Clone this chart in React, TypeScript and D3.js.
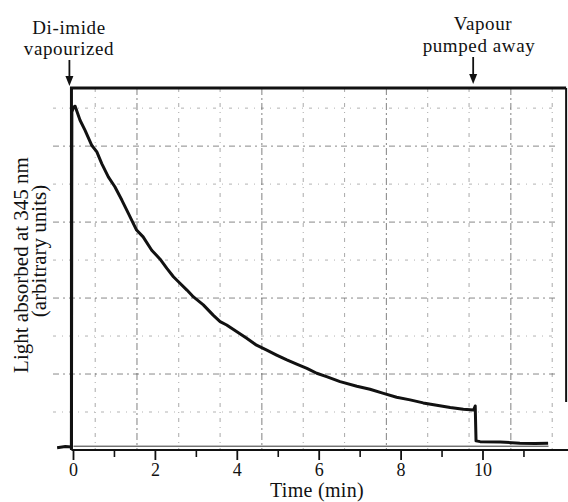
import { useEffect, useRef } from 'react';
import * as d3 from 'd3';

// recorder trace: [time (min), signal (grid divisions)]
const trace: [number, number][] = [
  [-0.4, 0.06], [-0.2, 0.09], [-0.05, 0.08], [-0.04, 8.9], [0.0, 9.03], [0.04, 9.05],
  [0.16, 8.68], [0.28, 8.42], [0.44, 8.03], [0.57, 7.85], [0.69, 7.54], [0.85, 7.19],
  [1.01, 6.93], [1.18, 6.58], [1.34, 6.23], [1.54, 5.79], [1.7, 5.61], [1.91, 5.26],
  [2.11, 5.03], [2.28, 4.78], [2.44, 4.56], [2.6, 4.39], [2.77, 4.21], [2.93, 4.03],
  [3.17, 3.82], [3.41, 3.55], [3.58, 3.38], [3.74, 3.29], [3.99, 3.11], [4.23, 2.94],
  [4.47, 2.76], [4.72, 2.63], [4.96, 2.5], [5.21, 2.37], [5.45, 2.26], [5.7, 2.15],
  [5.94, 2.02], [6.18, 1.93], [6.51, 1.8], [6.92, 1.68], [7.24, 1.6], [7.57, 1.49],
  [7.89, 1.39], [8.22, 1.32], [8.54, 1.24], [8.87, 1.18], [9.2, 1.12], [9.52, 1.07],
  [9.77, 1.05], [9.81, 1.16], [9.83, 0.24], [9.93, 0.22], [10.42, 0.21], [10.9, 0.18],
  [11.27, 0.17], [11.59, 0.18],
];

// faint recorder zero line
const zeroLine: [number, number][] = [[0, 0.1], [11.6, 0.1]];

const majorTicks = [0, 2, 4, 6, 8, 10];
const minorTicks = [1, 3, 5, 7, 9, 11];

// chart paper grid (offset from the time axis)
const gridTimes = [0.53, 1.55, 2.57, 3.58, 4.6, 5.61, 6.62, 7.64, 8.65, 9.66, 10.68, 11.69];
const gridLevels = [1, 2, 3, 4, 5, 6, 7, 8, 9];

const events = [
  { t: -0.1, lines: ['Di-imide', 'vapourized'], textX: [69, 69], textY: [33.5, 55], arrowTop: 60, arrowTip: 86 },
  { t: 9.76, lines: ['Vapour', 'pumped away'], textX: [483, 479], textY: [30, 51.5], arrowTop: 57, arrowTip: 84 },
];

export default function App() {
  const ref = useRef<SVGSVGElement>(null);

  useEffect(() => {
    const width = 568;
    const height = 502;
    const font = '"Liberation Serif", "Times New Roman", serif';

    const svg = d3.select(ref.current);
    svg.selectAll('*').remove();
    svg.attr('width', width).attr('height', height).attr('viewBox', `0 0 ${width} ${height}`);

    svg.append('rect').attr('width', width).attr('height', height).attr('fill', '#fff');

    const x = d3.scaleLinear().domain([0, 10]).range([73.5, 483]);
    const y = d3.scaleLinear().domain([0, 9.53]).range([450, 88]);

    const xLeft = x(-0.05);
    const xRight = x(12.03);

    // grid
    const grid = svg.append('g').attr('stroke', '#555').attr('stroke-width', 1).attr('fill', 'none');
    grid
      .selectAll('line.v')
      .data(gridTimes)
      .join('line')
      .attr('class', 'v')
      .attr('x1', (d) => x(d))
      .attr('x2', (d) => x(d))
      .attr('y1', y(9.53))
      .attr('y2', y(0))
      .attr('stroke-dasharray', (d, i) => (i % 3 === 1 ? '7 3 2 3' : '4 5 1 5'))
      .attr('opacity', (d, i) => (i % 3 === 1 ? 0.75 : 0.5));
    grid
      .selectAll('line.h')
      .data(gridLevels)
      .join('line')
      .attr('class', 'h')
      .attr('x1', 53)
      .attr('x2', 558)
      .attr('y1', (d) => y(d))
      .attr('y2', (d) => y(d))
      .attr('stroke-dasharray', (d) => (d % 2 === 0 ? '6 4 2 4' : '3 6 1 6'))
      .attr('opacity', (d) => (d % 2 === 0 ? 0.7 : 0.45));

    // frame
    const frame = svg.append('g').attr('stroke', '#111').attr('fill', 'none');
    frame
      .append('path')
      .attr('d', `M${xLeft},${y(0)}V${y(9.53)}H${xRight}`)
      .attr('stroke-width', 3);
    frame
      .append('line')
      .attr('x1', xRight)
      .attr('x2', xRight)
      .attr('y1', y(9.53))
      .attr('y2', 402)
      .attr('stroke-width', 2);

    // x axis
    svg
      .append('line')
      .attr('x1', xLeft)
      .attr('x2', width)
      .attr('y1', y(0))
      .attr('y2', y(0))
      .attr('stroke', '#111')
      .attr('stroke-width', 2.2);

    svg
      .append('g')
      .selectAll('line')
      .data(majorTicks)
      .join('line')
      .attr('x1', (d) => x(d))
      .attr('x2', (d) => x(d))
      .attr('y1', y(0))
      .attr('y2', y(0) + 10)
      .attr('stroke', '#111')
      .attr('stroke-width', 1.8);

    svg
      .append('g')
      .selectAll('line')
      .data(minorTicks)
      .join('line')
      .attr('x1', (d) => x(d))
      .attr('x2', (d) => x(d))
      .attr('y1', y(0))
      .attr('y2', y(0) + 7)
      .attr('stroke', '#111')
      .attr('stroke-width', 1.6);

    svg
      .append('g')
      .selectAll('text')
      .data(majorTicks)
      .join('text')
      .attr('x', (d) => x(d))
      .attr('y', 475.5)
      .attr('text-anchor', 'middle')
      .style('font-family', font)
      .style('font-size', '18px')
      .attr('fill', '#111')
      .text((d) => `${d}`);

    svg
      .append('text')
      .attr('x', 317)
      .attr('y', 497)
      .attr('text-anchor', 'middle')
      .style('font-family', font)
      .style('font-size', '20px')
      .style('letter-spacing', '0.3px')
      .attr('fill', '#111')
      .text('Time (min)');

    // y label, two centred lines in one text
    const yLabel = svg
      .append('text')
      .attr('transform', 'rotate(-90)')
      .attr('text-anchor', 'middle')
      .style('font-family', font)
      .style('font-size', '21px')
      .attr('fill', '#111');
    yLabel.append('tspan').attr('x', -265).attr('y', 28).text('Light absorbed at 345 nm');
    yLabel.append('tspan').attr('x', -251).attr('y', 46).text('(arbitrary units)');

    // traces
    const line = d3
      .line<[number, number]>()
      .x((d) => x(d[0]))
      .y((d) => y(d[1]));

    svg
      .append('path')
      .datum(zeroLine)
      .attr('d', line)
      .attr('fill', 'none')
      .attr('stroke', '#333')
      .attr('stroke-width', 1);

    svg
      .append('path')
      .datum(trace)
      .attr('d', line)
      .attr('fill', 'none')
      .attr('stroke', '#111')
      .attr('stroke-width', 3)
      .attr('stroke-linejoin', 'round');

    // event annotations
    events.forEach((ev) => {
      const ax = x(ev.t);
      const g = svg.append('g');
      ev.lines.forEach((txt, i) => {
        g.append('text')
          .attr('x', ev.textX[i])
          .attr('y', ev.textY[i])
          .attr('text-anchor', 'middle')
          .style('font-family', font)
          .style('font-size', '19px')
          .style('letter-spacing', '0.6px')
          .attr('fill', '#111')
          .text(txt);
      });
      g.append('line')
        .attr('x1', ax)
        .attr('x2', ax)
        .attr('y1', ev.arrowTop)
        .attr('y2', ev.arrowTip - 8)
        .attr('stroke', '#111')
        .attr('stroke-width', 1.8);
      g.append('path')
        .attr('d', `M${ax - 4},${ev.arrowTip - 10}L${ax + 4},${ev.arrowTip - 10}L${ax},${ev.arrowTip}Z`)
        .attr('fill', '#111');
    });
  }, []);

  return <svg ref={ref} style={{ position: 'absolute', left: 0, top: 0, display: 'block' }} />;
}
